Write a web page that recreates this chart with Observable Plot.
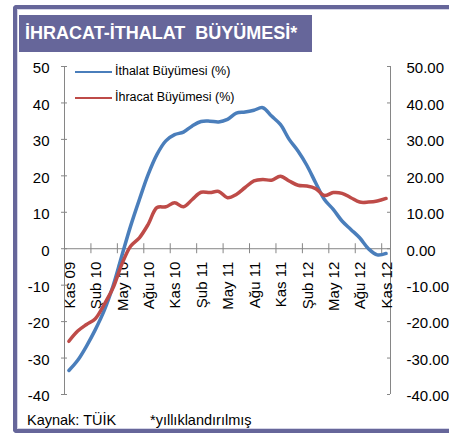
<!DOCTYPE html>
<html><head><meta charset="utf-8">
<script src="https://cdn.jsdelivr.net/npm/d3@7"></script>
<script src="https://cdn.jsdelivr.net/npm/@observablehq/plot@0.6"></script>
<style>
body{margin:0;background:#fff;font-family:"Liberation Sans",Arial,sans-serif;}
#wrap{position:relative;width:449px;height:441px;overflow:hidden;background:#fff;}
#frame{position:absolute;left:13px;top:5px;width:460px;height:420px;border:4px solid #66669a;border-right:none;border-radius:4px 0 0 4px;box-shadow:inset 1px 1px 0 #d4d4e6, inset 0 -1px 0 #d4d4e6;}
#title{position:absolute;left:19px;top:15px;width:287px;height:37px;padding-left:6px;background:#66669a;color:#fff;font-weight:bold;font-size:18px;line-height:37px;white-space:pre;}
#plot{position:absolute;left:0;top:0;}
.leg{position:absolute;left:75px;font-size:12.5px;color:#000;white-space:pre;}
.leg span.ln{display:inline-block;width:37px;height:2px;vertical-align:middle;margin-right:3px;}
.cap{position:absolute;top:412px;font-size:14.5px;color:#000;white-space:pre;}
</style></head>
<body>
<div id="wrap">
  <div id="frame"></div>
  <div id="title">İHRACAT-İTHALAT  BÜYÜMESİ*</div>
  <div id="plot"></div>
  <div class="leg" style="top:64px"><span class="ln" style="background:#4a7ebb"></span>İthalat Büyümesi (%)</div>
  <div class="leg" style="top:90px"><span class="ln" style="background:#be4b48"></span>İhracat Büyümesi (%)</div>
  <div class="cap" style="left:27px">Kaynak: TÜİK</div>
  <div class="cap" style="left:150px">*yıllıklandırılmış</div>
</div>
<script>
const months = ["Kas 09","Ara 09","Oca 10","Şub 10","Mar 10","Nis 10","May 10","Haz 10","Tem 10","Ağu 10","Eyl 10","Eki 10",
  "Kas 10","Ara 10","Oca 11","Şub 11","Mar 11","Nis 11","May 11","Haz 11","Tem 11","Ağu 11","Eyl 11","Eki 11",
  "Kas 11","Ara 11","Oca 12","Şub 12","Mar 12","Nis 12","May 12","Haz 12","Tem 12","Ağu 12","Eyl 12","Eki 12","Kas 12"];
const ithalat = [-33.4,-30.6,-26.7,-22.2,-17,-10.3,-2,6.2,13.5,20.4,25.9,29.6,
  31.3,32,33.7,34.9,35,34.8,35.5,37.2,37.5,38,38.7,36.4,
  34.1,30,26.8,22.9,18.1,13.5,10.8,7.6,5.3,3,0,-1.7,-1.3];
const ihracat = [-25.4,-22.6,-20.8,-19.2,-15.3,-10.8,-4.3,0.7,3,6.7,11.3,11.5,
  12.6,11.5,13.5,15.5,15.4,15.7,14,14.9,16.8,18.6,19,18.8,
  19.9,18.6,17.4,17.2,16.5,14.6,15.4,15.2,14,12.8,12.8,13.1,13.8];
const yTicks = [-40,-30,-20,-10,0,10,20,30,40,50];
const labelEvery = 3;

const idx = months.map((m,i)=>i);
const tickLabels = idx.filter(i=>i%labelEvery===0);
const boundaries = d3.range(-0.5, months.length - 0.5, labelEvery);
const xMin = -0.5, xMax = months.length - 0.5;
const ser = (vals)=>vals.map((v,i)=>({i, v}));
const gray = "#868686";

const chart = Plot.plot({
  width: 449, height: 441,
  marginLeft: 64, marginRight: 59, marginTop: 66, marginBottom: 47,
  style: {fontFamily: "Liberation Sans, Arial, sans-serif", fontSize: "15px", background: "transparent", color: "#000"},
  x: {domain: [xMin, xMax], axis: null},
  y: {domain: [-40, 50], axis: null},
  marks: [
    Plot.ruleX([xMin], {stroke: gray, strokeWidth: 1}),
    Plot.ruleX([xMax], {stroke: gray, strokeWidth: 1}),
    Plot.ruleY(yTicks, {x1: xMin, x2: xMin, insetLeft: -3, insetRight: -3, stroke: gray}),
    Plot.ruleY(yTicks, {x1: xMax, x2: xMax, insetLeft: -3, insetRight: 0, stroke: gray}),
    Plot.ruleY([0], {x1: xMin, x2: xMax, stroke: gray}),
    Plot.ruleX(boundaries, {y1: 0, y2: 0, insetTop: -5, insetBottom: -5, stroke: gray}),
    Plot.text(yTicks, {x: xMin, y: d=>d, text: d=>String(d), textAnchor: "end", dx: -15, dy: 2, fill: "#000", fontSize: 15}),
    Plot.text(yTicks, {x: xMax, y: d=>d, text: d=>d.toFixed(2), textAnchor: "start", dx: 16, dy: 2, fill: "#000", fontSize: 15}),
    Plot.text(tickLabels, {x: d=>d, y: 0, text: d=>months[d], rotate: -90, textAnchor: "end", dy: 13, dx: 1, fill: "#000", fontSize: 15}),
    Plot.line(ser(ithalat), {x: "i", y: "v", stroke: "#4a7ebb", strokeWidth: 3.5, curve: "catmull-rom"}),
    Plot.line(ser(ihracat), {x: "i", y: "v", stroke: "#be4b48", strokeWidth: 3.5, curve: "catmull-rom"})
  ]
});
document.getElementById("plot").appendChild(chart);
</script>
</body></html>
